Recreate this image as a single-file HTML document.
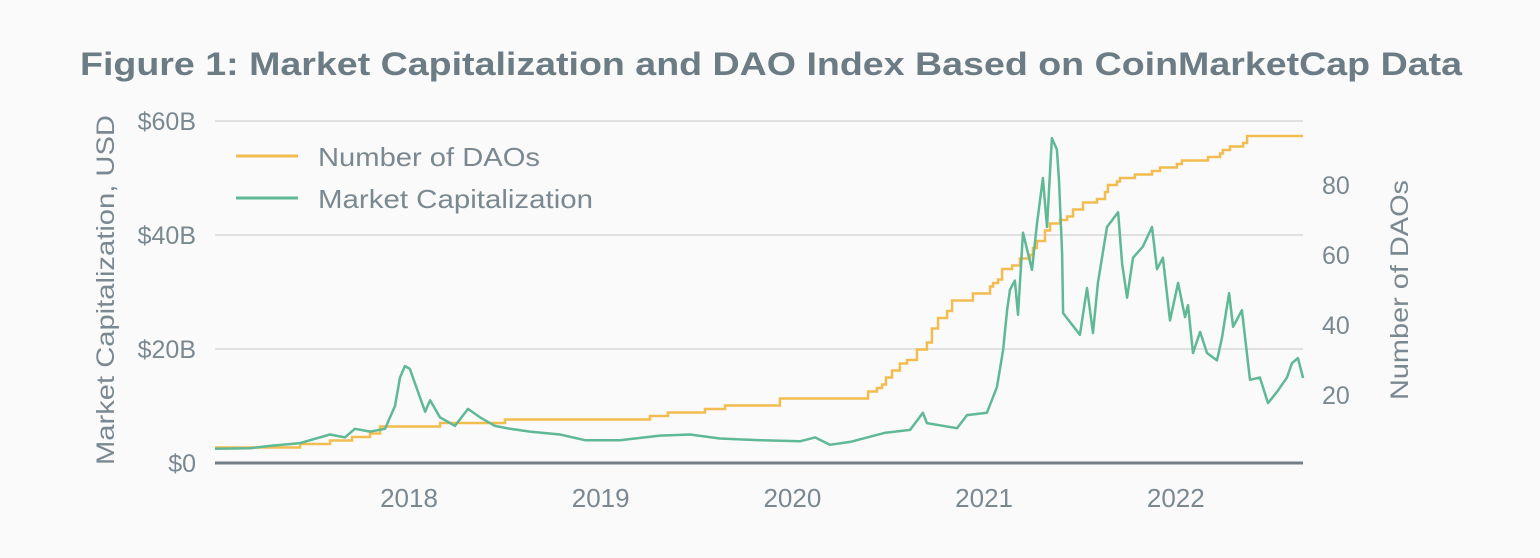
<!DOCTYPE html>
<html><head><meta charset="utf-8"><style>
html,body{margin:0;padding:0;background:#fafafa;}
svg{display:block;font-family:"Liberation Sans",sans-serif;}
</style></head><body>
<svg id="chart" width="1540" height="558" viewBox="0 0 1540 558">
<rect width="1540" height="558" fill="#fafafa"/>
<text x="80" y="75" textLength="1382" lengthAdjust="spacingAndGlyphs" font-size="32" font-weight="bold" fill="#6c7c85">Figure 1: Market Capitalization and DAO Index Based on CoinMarketCap Data</text>
<g id="grid"></g>
<g id="series"></g>
<g id="axes"></g>
<text transform="translate(114,465) rotate(-90)" textLength="350" lengthAdjust="spacingAndGlyphs" font-size="25" fill="#7a8991">Market Capitalization, USD</text>
<text transform="translate(1408,400) rotate(-90)" textLength="220" lengthAdjust="spacingAndGlyphs" font-size="25" fill="#7a8991">Number of DAOs</text>
<g>
<g><line x1="236" y1="156" x2="298" y2="156" stroke="#f2bd4e" stroke-width="3"/><text x="318" y="166" textLength="222" lengthAdjust="spacingAndGlyphs" font-size="26" fill="#7a8991">Number of DAOs</text></g>
<g><line x1="236" y1="198" x2="298" y2="198" stroke="#5fb896" stroke-width="3"/><text x="318" y="208" textLength="275" lengthAdjust="spacingAndGlyphs" font-size="26" fill="#7a8991">Market Capitalization</text></g>
</g>
</svg>
<script>
const capYears=[2016.967,2017.150,2017.254,2017.411,2017.567,2017.645,2017.697,2017.776,2017.854,2017.906,2017.932,2017.958,2017.984,2018.010,2018.063,2018.089,2018.141,2018.219,2018.287,2018.350,2018.428,2018.506,2018.610,2018.767,2018.897,2019.080,2019.288,2019.445,2019.601,2019.810,2020.019,2020.097,2020.175,2020.280,2020.462,2020.593,2020.660,2020.681,2020.838,2020.890,2020.994,2021.046,2021.078,2021.099,2021.114,2021.140,2021.156,2021.182,2021.229,2021.255,2021.286,2021.307,2021.323,2021.333,2021.359,2021.370,2021.386,2021.391,2021.479,2021.516,2021.547,2021.573,2021.620,2021.678,2021.699,2021.725,2021.756,2021.808,2021.855,2021.881,2021.912,2021.949,2021.991,2022.027,2022.043,2022.069,2022.106,2022.142,2022.194,2022.220,2022.257,2022.278,2022.324,2022.366,2022.418,2022.460,2022.507,2022.559,2022.585,2022.616,2022.643];
const capValues=[2.5,2.6,3.0,3.5,5.0,4.5,6.0,5.5,6.0,10,15,17,16.5,14,9,11,8,6.5,9.5,8,6.5,6,5.5,5,4,4,4.8,5.0,4.3,4,3.8,4.5,3.2,3.7,5.3,5.8,8.8,7,6.1,8.4,8.8,13.3,19.8,26.8,30.4,32,26,40.4,33.9,42,50,41.4,51,57,55,49.6,36.8,26.3,22.5,30.7,22.8,31.6,41.4,44,35,29,36,38,41.4,34,36,25,31.6,25.6,27.7,19.3,23,19.3,18,22,29.8,23.9,26.8,14.6,15,10.5,12.5,15,17.5,18.4,14.9];
const daoYears=[2016.967,2017.411,2017.567,2017.682,2017.776,2017.828,2018.141,2018.480,2019.236,2019.330,2019.523,2019.628,2019.914,2020.374,2020.420,2020.447,2020.467,2020.499,2020.540,2020.577,2020.629,2020.681,2020.707,2020.739,2020.786,2020.812,2020.921,2021.010,2021.026,2021.052,2021.073,2021.125,2021.166,2021.219,2021.234,2021.255,2021.297,2021.323,2021.375,2021.412,2021.443,2021.495,2021.568,2021.610,2021.625,2021.672,2021.688,2021.766,2021.855,2021.897,2021.985,2022.011,2022.147,2022.210,2022.225,2022.262,2022.330,2022.351];
const daoCounts=[5,6,7,8,9,11,12,13,14,15,16,17,19,21,22,23,25,27,29,30,33,35,39,42,44,47,49,51,52,53,56,57,59,60,62,64,67,69,70,71,73,75,76,78,80,81,82,83,84,85,86,87,88,89,90,91,92,94];
const daoEndYear=2022.643;
const xTicks=[2018,2019,2020,2021,2022];
const leftTicks=[0,20,40,60];
const leftTickLabels=["$0","$20B","$40B","$60B"];
const rightTicks=[20,40,60,80];

const NS="http://www.w3.org/2000/svg";
const X0=215,X1=1303;
const x=y=>413+(y-2018)*191.7;
const yL=v=>463-v*5.7;
const yR=c=>465-c*3.5;
function mk(tag,attrs,parent){const e=document.createElementNS(NS,tag);for(const k in attrs)e.setAttribute(k,attrs[k]);parent.appendChild(e);return e;}
const grid=document.getElementById('grid'),axes=document.getElementById('axes'),series=document.getElementById('series');
leftTicks.forEach((v,i)=>{
  if(v>0){const g=mk('line',{x1:X0,x2:X1,y1:yL(v),y2:yL(v),stroke:'#e1e1e1','stroke-width':2},grid);
  
  }
  const t=mk('text',{x:196,y:yL(v)+9,'text-anchor':'end','font-size':25,fill:'#7a8991'},axes);
  t.textContent=leftTickLabels[i];
  
  
});
rightTicks.forEach(v=>{
  const t=mk('text',{x:1322,y:yR(v)+9,'font-size':25,fill:'#7a8991'},axes);
  t.textContent=v;
  
  
});
xTicks.forEach(v=>{
  const t=mk('text',{x:x(v)-4,y:507,'text-anchor':'middle','font-size':26,fill:'#7a8991'},axes);
  t.textContent=v;
  
  
});
const base=mk('line',{x1:X0,x2:X1,y1:463,y2:463,stroke:'#737f87','stroke-width':3},axes);


let d='M'+x(daoYears[0])+','+yR(daoCounts[0]);
for(let i=1;i<daoYears.length;i++){d+='H'+x(daoYears[i])+'V'+yR(daoCounts[i]);}
d+='H'+x(daoEndYear);
const dl=mk('path',{d:d,fill:'none',stroke:'#f2bd4e','stroke-width':2.5},series);


const cd=capYears.map((yy,i)=>(i?'L':'M')+x(yy).toFixed(1)+','+yL(capValues[i]).toFixed(1)).join('');
const cl=mk('path',{d:cd,fill:'none',stroke:'#5fb896','stroke-width':2.5,'stroke-linejoin':'round'},series);


</script>
</body></html>
